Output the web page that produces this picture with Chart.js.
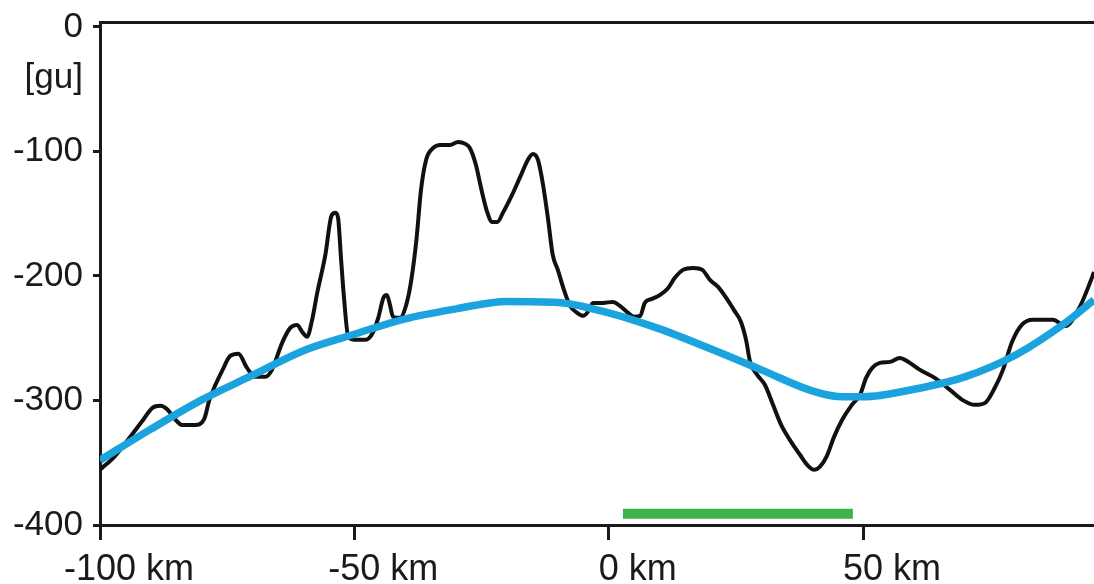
<!DOCTYPE html>
<html>
<head>
<meta charset="utf-8">
<script src="https://cdn.jsdelivr.net/npm/chart.js@4.4.1/dist/chart.umd.min.js"></script>
<style>
  html, body { margin: 0; padding: 0; background: #ffffff; }
  #wrap { width: 1094px; height: 584px; position: relative; }
</style>
</head>
<body>
<div id="wrap"><canvas id="c"></canvas></div>
<script>
// ---- data ----
const profileX = [-100, -97.0, -94.5, -91.5, -89.7, -88.1, -86.7, -85.3, -83.9, -81.3, -79.5, -78.5, -77.3, -75.9, -74.4, -72.8, -71.1, -69.5, -67.5, -66.2, -64.2, -62.6, -61.3, -60.1, -59.3, -58.3, -57.3, -55.7, -54.5, -53.7, -53.2, -52.6, -52.0, -51.2, -49.9, -47.9, -46.5, -45.3, -44.3, -43.6, -43.0, -42.4, -41.0, -39.8, -38.8, -37.8, -36.9, -35.9, -34.5, -33.1, -31.2, -29.6, -28.2, -27.3, -26.1, -25.0, -23.9, -22.9, -21.9, -20.8, -19.0, -17.4, -15.9, -14.9, -13.9, -12.9, -11.9, -11.0, -10.0, -8.8, -7.6, -6.2, -5.0, -4.1, -3.1, -1.1, 0.8, 2.2, 3.8, 5.0, 6.2, 7.1, 8.5, 10.1, 11.7, 13.0, 14.6, 16.6, 18.4, 19.9, 21.5, 23.1, 24.6, 26.0, 27.0, 27.8, 29.2, 30.7, 32.3, 33.9, 35.6, 37.6, 39.2, 40.4, 41.5, 42.9, 44.3, 45.9, 47.8, 49.4, 50.6, 51.8, 53.3, 55.3, 57.2, 59.2, 61.2, 64.1, 67.1, 69.5, 72.0, 74.0, 75.9, 77.5, 79.3, 81.2, 83.4, 85.8, 87.3, 89.8, 92.6, 94.6, 95.4];
const profileY = [-355.7, -344.4, -331.6, -315.5, -305.9, -304.3, -307.5, -314.7, -319.6, -319.6, -314.7, -299.5, -287.4, -275.4, -264.2, -262.5, -273.8, -281.0, -281.0, -275.4, -253.7, -241.7, -239.3, -245.7, -248.9, -235.2, -213.6, -183.1, -151.7, -149.3, -153.3, -187.1, -219.2, -248.9, -251.3, -251.3, -246.5, -233.6, -217.6, -215.2, -223.2, -232.8, -233.6, -223.2, -203.1, -171.0, -130.9, -106.8, -97.2, -94.7, -94.7, -92.3, -93.9, -97.2, -110.8, -130.9, -148.5, -156.6, -156.6, -149.3, -134.9, -120.4, -106.8, -102.0, -106.8, -126.9, -155.0, -183.1, -195.1, -211.2, -224.0, -229.6, -232.0, -228.8, -221.6, -221.6, -220.8, -224.0, -229.6, -232.8, -232.0, -221.6, -218.4, -215.2, -209.6, -201.5, -195.1, -193.5, -195.1, -203.1, -208.8, -217.6, -227.2, -236.9, -251.3, -269.0, -279.4, -287.4, -303.5, -319.6, -331.6, -343.6, -352.5, -355.7, -353.3, -344.4, -329.2, -315.5, -303.5, -295.5, -281.8, -273.8, -269.8, -269.0, -265.8, -269.8, -275.4, -281.8, -291.5, -299.5, -303.5, -301.9, -289.8, -275.4, -252.9, -239.3, -235.2, -235.2, -235.2, -240.1, -224.8, -205.5, -196.7];

const trendX = [-100, -90, -80, -70, -60, -50, -40, -30, -20, -10, 0, 10, 20, 30, 40, 45, 50, 60, 70, 80, 90, 95.4];
const trendY = [-348, -323, -299.5, -279.7, -260, -246.8, -234.4, -226.4, -220.4, -221.2, -229.6, -242.5, -258.5, -275.4, -292.3, -296.7, -297, -291, -281, -263.4, -236.9, -219.2];

const barX = [2.8, 48.0];
const barY = [-391, -391];

const xTicks = [-100, -50, 0, 50];
const xUnit = 'km';
const yTicks = [0, -100, -200, -300, -400];
const yUnitLabel = '[gu]';
const yUnitAt = -41.5;

const xMin = -100, xMax = 95.4;
const yMin = -400, yMax = 4;

// ---- build ----
const toPts = (xs, ys) => xs.map((x, i) => ({ x: x, y: ys[i] }));
const FONT = "'Liberation Sans', Arial, Helvetica, sans-serif";
const INK = '#1a1a1a';

const ctx = document.getElementById('c').getContext('2d');
ctx.font = '36px ' + FONT;
const unitShift = ctx.measureText(' ' + xUnit).width / 2;

new Chart(ctx, {
  type: 'line',
  data: {
    datasets: [
      {
        data: toPts(trendX, trendY),
        borderColor: '#1aa3dc',
        borderWidth: 7.5,
        pointRadius: 0,
        cubicInterpolationMode: 'monotone',
        order: 0
      },
      {
        data: toPts(profileX, profileY),
        borderColor: '#111111',
        borderWidth: 4,
        pointRadius: 0,
        cubicInterpolationMode: 'monotone',
        borderJoinStyle: 'round',
        order: 1
      },
      {
        data: toPts(barX, barY),
        borderColor: '#3db34a',
        borderWidth: 10,
        borderCapStyle: 'butt',
        pointRadius: 0,
        tension: 0,
        order: 2
      }
    ]
  },
  options: {
    responsive: true,
    maintainAspectRatio: false,
    animation: false,
    events: [],
    layout: { padding: 0 },
    plugins: { legend: { display: false }, tooltip: { enabled: false } },
    scales: {
      x: {
        type: 'linear',
        position: 'bottom',
        min: xMin,
        max: xMax,
        afterBuildTicks: (s) => { s.ticks = xTicks.map(v => ({ value: v })); },
        afterFit: (s) => { s.height = 59; s.paddingRight = 0; },
        border: { display: true, color: INK, width: 3 },
        grid: { display: true, drawOnChartArea: false, drawTicks: true, tickLength: 15, tickWidth: 3, tickColor: INK },
        ticks: {
          autoSkip: false,
          maxRotation: 0,
          padding: 8,
          color: INK,
          font: { family: FONT, size: 36 },
          labelOffset: unitShift,
          callback: (v) => v + ' ' + xUnit
        }
      },
      xTop: {
        type: 'linear',
        position: 'top',
        afterFit: (s) => { s.height = 22; s.paddingLeft = 0; s.paddingRight = 0; },
        border: { display: true, color: INK, width: 3 },
        grid: { display: false },
        ticks: { display: false }
      },
      y: {
        type: 'linear',
        position: 'left',
        min: yMin,
        max: yMax,
        afterBuildTicks: (s) => {
          const t = yTicks.map(v => ({ value: v }));
          t.splice(1, 0, { value: yUnitAt });
          s.ticks = t;
        },
        afterFit: (s) => { s.width = 100; s.paddingTop = 0; s.paddingBottom = 0; },
        border: { display: true, color: INK, width: 3 },
        grid: {
          display: true, drawOnChartArea: false, drawTicks: true, tickLength: 7, tickWidth: 3,
          tickColor: (c) => (c.tick && c.tick.value === yUnitAt) ? 'rgba(0,0,0,0)' : INK
        },
        ticks: {
          autoSkip: false,
          padding: 10,
          color: INK,
          font: { family: FONT, size: 35 },
          callback: (v) => v === yUnitAt ? yUnitLabel : String(v)
        }
      }
    }
  }
});
</script>
</body>
</html>
